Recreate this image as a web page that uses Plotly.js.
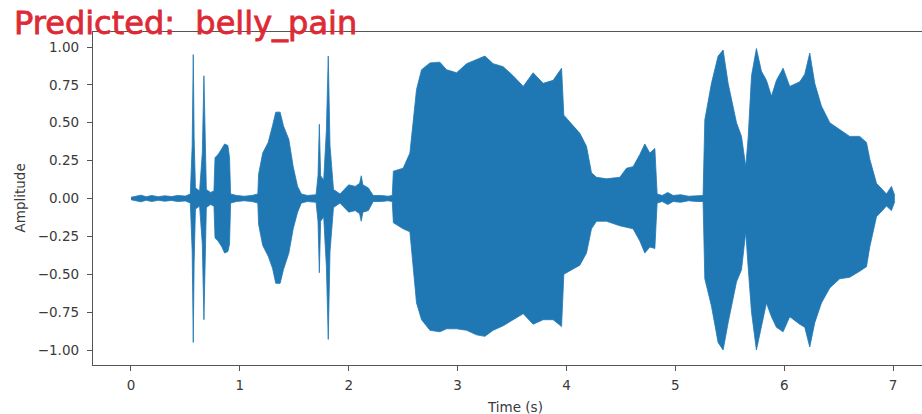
<!DOCTYPE html>
<html>
<head>
<meta charset="utf-8">
<script src="https://cdn.plot.ly/plotly-3.0.1.min.js"></script>
<style>
html,body{margin:0;padding:0;background:#fff;}
#chart{width:922px;height:414px;}
#chart .annotation[data-index="0"] text{stroke:#dd2a35;stroke-width:0.8px;}
</style>
</head>
<body>
<div id="chart"></div>
<script>
// Envelope of the waveform (time in s, amplitude)
const time = [0.00,0.04,0.09,0.14,0.19,0.25,0.31,0.37,0.43,0.50,0.545,0.562,0.572,0.580,0.592,0.63,0.655,0.670,0.680,0.692,0.73,0.762,0.772,0.80,0.835,0.86,0.89,0.905,0.915,0.97,1.04,1.11,1.165,1.172,1.21,1.26,1.30,1.33,1.37,1.40,1.45,1.49,1.53,1.565,1.62,1.70,1.718,1.730,1.742,1.77,1.795,1.812,1.828,1.86,1.92,1.95,2.00,2.06,2.10,2.115,2.13,2.18,2.225,2.30,2.36,2.40,2.41,2.50,2.562,2.623,2.669,2.746,2.837,2.899,2.991,3.083,3.174,3.251,3.327,3.419,3.51,3.603,3.694,3.786,3.878,3.955,3.976,4.047,4.123,4.184,4.23,4.276,4.368,4.49,4.552,4.612,4.674,4.72,4.766,4.812,4.833,4.88,4.93,4.98,5.05,5.12,5.20,5.255,5.271,5.332,5.393,5.439,5.485,5.562,5.608,5.647,5.669,5.70,5.745,5.791,5.837,5.883,5.929,5.99,6.051,6.143,6.189,6.235,6.281,6.342,6.419,6.51,6.602,6.694,6.756,6.786,6.848,6.94,6.985,7.016];
const upper = [0.008,0.015,0.022,0.012,0.02,0.012,0.018,0.013,0.02,0.016,0.03,0.35,0.95,0.40,0.07,0.05,0.30,0.81,0.35,0.06,0.04,0.05,0.27,0.29,0.33,0.36,0.35,0.27,0.03,0.02,0.015,0.02,0.03,0.16,0.30,0.37,0.48,0.57,0.57,0.48,0.39,0.21,0.08,0.03,0.02,0.025,0.15,0.49,0.15,0.12,0.45,0.94,0.35,0.06,0.03,0.05,0.09,0.08,0.10,0.15,0.09,0.07,0.02,0.02,0.015,0.02,0.18,0.20,0.30,0.72,0.85,0.895,0.90,0.85,0.83,0.89,0.917,0.94,0.89,0.87,0.81,0.74,0.83,0.76,0.78,0.86,0.55,0.49,0.43,0.345,0.17,0.14,0.13,0.14,0.20,0.21,0.29,0.36,0.30,0.33,0.03,0.02,0.04,0.02,0.025,0.015,0.02,0.02,0.52,0.76,0.94,0.98,0.76,0.50,0.41,0.21,0.40,0.81,0.99,0.84,0.78,0.675,0.78,0.86,0.74,0.77,0.82,0.96,0.76,0.61,0.50,0.455,0.41,0.41,0.37,0.26,0.10,0.03,0.08,0.02];
const lower = [-0.008,-0.015,-0.022,-0.012,-0.02,-0.012,-0.018,-0.013,-0.02,-0.016,-0.03,-0.35,-0.95,-0.42,-0.07,-0.05,-0.30,-0.80,-0.35,-0.06,-0.04,-0.05,-0.26,-0.28,-0.32,-0.36,-0.35,-0.30,-0.03,-0.02,-0.015,-0.02,-0.03,-0.17,-0.31,-0.38,-0.46,-0.56,-0.56,-0.47,-0.36,-0.20,-0.09,-0.03,-0.02,-0.025,-0.15,-0.49,-0.15,-0.12,-0.45,-0.93,-0.35,-0.06,-0.03,-0.05,-0.09,-0.08,-0.10,-0.15,-0.09,-0.08,-0.02,-0.02,-0.015,-0.02,-0.16,-0.20,-0.22,-0.69,-0.80,-0.87,-0.88,-0.86,-0.86,-0.87,-0.90,-0.91,-0.87,-0.84,-0.80,-0.76,-0.83,-0.80,-0.80,-0.845,-0.50,-0.47,-0.44,-0.36,-0.20,-0.15,-0.15,-0.18,-0.19,-0.20,-0.28,-0.36,-0.32,-0.33,-0.03,-0.02,-0.04,-0.02,-0.025,-0.015,-0.02,-0.02,-0.53,-0.71,-0.95,-1.00,-0.82,-0.55,-0.47,-0.22,-0.45,-0.75,-1.00,-0.84,-0.69,-0.78,-0.85,-0.88,-0.78,-0.83,-0.85,-0.98,-0.82,-0.69,-0.59,-0.53,-0.52,-0.48,-0.45,-0.32,-0.12,-0.05,-0.08,-0.02];

const xTicks = [0,1,2,3,4,5,6,7];
const yTicks = [-1.00,-0.75,-0.50,-0.25,0.00,0.25,0.50,0.75,1.00];
const titleText = "Predicted:\u00a0 belly_pain";
const xLabel = "Time (s)";
const yLabel = "Amplitude";

const blue = '#1f77b4';
const traces = [
  {x: time, y: lower, type: 'scatter', mode: 'lines', line: {color: blue, width: 0.8}, hoverinfo: 'skip', showlegend: false},
  {x: time, y: upper, type: 'scatter', mode: 'lines', fill: 'tonexty', fillcolor: blue, line: {color: blue, width: 0.8}, hoverinfo: 'skip', showlegend: false}
];

const tickFont = {family: 'DejaVu Sans', size: 13.5, color: '#3a3a3a'};
const layout = {
  width: 922, height: 414,
  margin: {l: 93, r: 0, t: 32, b: 49, pad: 0},
  paper_bgcolor: '#fff', plot_bgcolor: '#fff',
  showlegend: false,
  xaxis: {
    range: [-0.349, 7.266], tickvals: xTicks, ticktext: xTicks.map(String),
    showgrid: false, zeroline: false, showline: true, mirror: true,
    linecolor: '#555', linewidth: 1.2,
    ticks: 'outside', ticklen: 5, tickwidth: 1, tickcolor: '#555',
    ticklabelstandoff: 3,
    tickfont: tickFont
  },
  yaxis: {
    range: [-1.099, 1.099], tickvals: yTicks, tickformat: '.2f',
    showgrid: false, zeroline: false, showline: true,
    linecolor: '#555', linewidth: 1.2,
    ticks: 'outside', ticklen: 5, tickwidth: 1, tickcolor: '#555',
    ticklabelstandoff: 5,
    tickfont: tickFont
  },
  annotations: [
    {text: titleText, xref: 'paper', yref: 'paper', x: (12-93)/829, y: (365-23)/333,
     xanchor: 'left', yanchor: 'middle', showarrow: false,
     font: {family: 'DejaVu Sans', size: 32, color: '#dd2a35'}},
    {text: xLabel, xref: 'paper', yref: 'paper', x: (515-93)/829, y: (365-407)/333,
     xanchor: 'center', yanchor: 'middle', showarrow: false,
     font: {family: 'DejaVu Sans', size: 13.5, color: '#3a3a3a'}},
    {text: yLabel, xref: 'paper', yref: 'paper', x: (19-93)/829, y: 0.5, textangle: -90,
     xanchor: 'center', yanchor: 'middle', showarrow: false,
     font: {family: 'DejaVu Sans', size: 13.5, color: '#3a3a3a'}}
  ]
};

Plotly.newPlot('chart', traces, layout, {displayModeBar: false, staticPlot: true});
</script>
</body>
</html>
